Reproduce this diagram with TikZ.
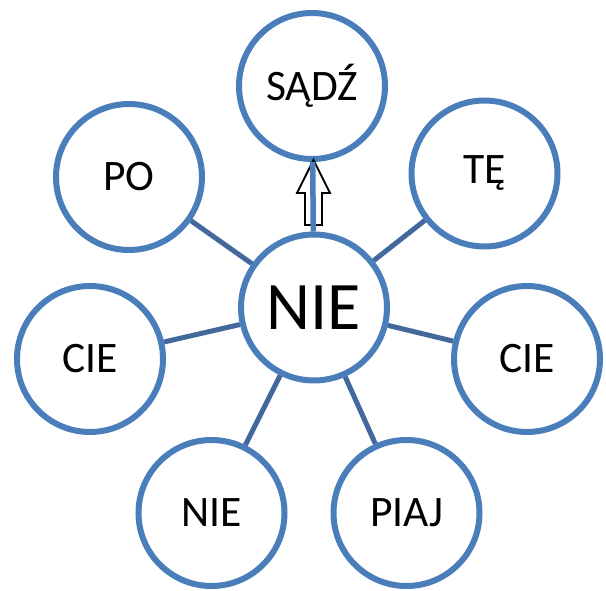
\documentclass[tikz,border=0pt]{standalone}
\usepackage{fontspec}
\setmainfont{Carlito}
\definecolor{ringblue}{RGB}{74,126,187}
\definecolor{linkblue}{RGB}{66,104,156}
\begin{document}
\begin{tikzpicture}[x=1pt,y=1pt,
  ring/.style={circle,draw=ringblue,line width=6pt,fill=white,inner sep=0pt,minimum size=146pt,font=\fontsize{43.5}{52}\selectfont},
  hub/.style={ring,font=\fontsize{68}{80}\selectfont},
  link/.style={draw=linkblue,line width=5pt}]
\useasboundingbox (0,0) rectangle (606,590);
\node[hub]  (nie)  at (314,282.5) {NIE};
\node[ring] (sadz) at (312,504) {SĄDŹ};
\node[ring] (po)   at (129,413) {PO};
\node[ring] (te)   at (484.5,416.5) {TĘ};
\node[ring] (ciel) at (90,231) {CIE};
\node[ring] (cier) at (527,231) {CIE};
\node[ring] (nieb) at (211.5,77) {NIE};
\node[ring] (piaj) at (406.5,77) {PIAJ};
\draw[link] (nie) -- (po);
\draw[link] (nie) -- (te);
\draw[link] (nie) -- (ciel);
\draw[link] (nie) -- (cier);
\draw[link] (nie) -- (nieb);
\draw[link] (nie) -- (piaj);
\draw[black,line width=1.8pt,fill=white,line join=miter]
  (305,365) -- (305,397) -- (297,397) -- (313.5,430) -- (330,397) -- (322,397) -- (322,365) -- cycle;
\draw[link,draw=ringblue,line width=5.5pt] (nie) -- (sadz);
\end{tikzpicture}
\end{document}
